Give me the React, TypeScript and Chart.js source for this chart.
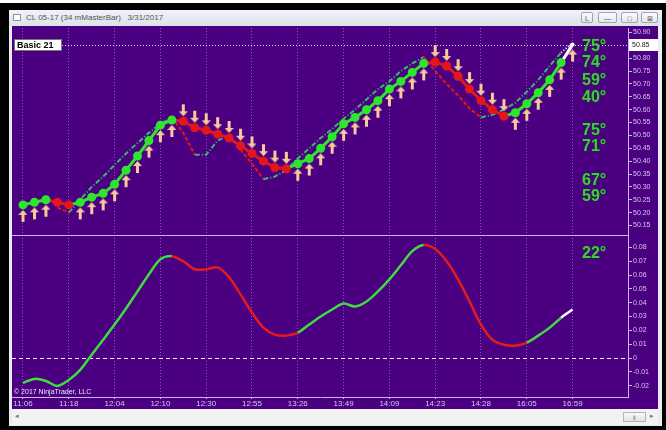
import React, { useEffect, useRef } from 'react';
import { Chart, registerables } from 'chart.js';

Chart.register(...registerables);

// ---------- data ----------
const timeLabels = ['11:06', '11:18', '12:04', '12:10', '12:30', '12:55', '13:26', '13:49', '14:09', '14:23', '14:28', '16:05', '16:59'];
const barsPerLabel = 4;

const priceValues = [
  50.23, 50.24, 50.25, 50.24, 50.23, 50.24, 50.26, 50.275, 50.31, 50.365,
  50.42, 50.48, 50.54, 50.56, 50.555, 50.53, 50.52, 50.505, 50.49, 50.46,
  50.43, 50.40, 50.375, 50.37, 50.39, 50.41, 50.45, 50.495, 50.545, 50.57,
  50.60, 50.635, 50.68, 50.71, 50.745, 50.78, 50.785, 50.77, 50.73, 50.68,
  50.635, 50.60, 50.575, 50.588, 50.623, 50.666, 50.716, 50.783, 50.853,
];
// 1 = up bar (green), -1 = down bar (red), 0 = current bar
const barTrend = [
  1, 1, 1, -1, -1, 1, 1, 1, 1, 1,
  1, 1, 1, 1, -1, -1, -1, -1, -1, -1,
  -1, -1, -1, -1, 1, 1, 1, 1, 1, 1,
  1, 1, 1, 1, 1, 1, -1, -1, -1, -1,
  -1, -1, -1, 1, 1, 1, 1, 1, 0,
];
const arrowFlags = [
  1, 1, 1, 0, 0, 1, 1, 1, 1, 1,
  1, 1, 1, 1, 1, 1, 1, 1, 1, 1,
  1, 1, 1, 1, 1, 1, 1, 1, 1, 1,
  1, 1, 1, 1, 1, 1, 1, 1, 1, 1,
  1, 1, 1, 1, 1, 1, 1, 1, 1,
];
const leadValues = [
  null, null, null, 50.22, 50.20, 50.25, 50.30, 50.34, 50.385, 50.43,
  50.47, 50.51, 50.545, 50.57, 50.51, 50.425, 50.425, 50.48, 50.50, 50.445,
  50.39, 50.33, 50.34, 50.365, 50.41, 50.45, 50.49, 50.525, 50.565, 50.60,
  50.64, 50.68, 50.71, 50.75, 50.78, 50.805, 50.75, 50.70, 50.655, 50.605,
  50.57, 50.58, 50.60, 50.627, 50.67, 50.716, 50.77, 50.822, 50.86,
];
const oscValues = [
  -0.0180, -0.0151, -0.0166, -0.0202, -0.0159, -0.0086, 0.0024, 0.0132, 0.0242, 0.0358,
  0.0482, 0.0606, 0.0715, 0.0737, 0.0700, 0.0642, 0.0642, 0.0656, 0.0584, 0.0460,
  0.0329, 0.0220, 0.0169, 0.0162, 0.0183, 0.0242, 0.0300, 0.0351, 0.0394, 0.0373,
  0.0409, 0.0482, 0.0569, 0.0671, 0.0773, 0.0817, 0.0788, 0.0700, 0.0569, 0.0409,
  0.0242, 0.0132, 0.0096, 0.0089, 0.0111, 0.0162, 0.0220, 0.0292, 0.0351,
];
const oscTrend = [
  1, 1, 1, 1, 1, 1, 1, 1, 1, 1,
  1, 1, 1, -1, -1, -1, -1, -1, -1, -1,
  -1, -1, -1, -1, 1, 1, 1, 1, 1, 1,
  1, 1, 1, 1, 1, -1, -1, -1, -1, -1,
  -1, -1, -1, -1, 1, 1, 1, 1, 0,
];
const priceTicks = [50.90, 50.85, 50.80, 50.75, 50.70, 50.65, 50.60, 50.55, 50.50, 50.45, 50.40, 50.35, 50.30, 50.25, 50.20, 50.15];
const oscTicks = [0.08, 0.07, 0.06, 0.05, 0.04, 0.03, 0.02, 0.01, 0, -0.01, -0.02];
const priceLineValue = 50.85;
const priceLineName = 'Basic 21';
const angleTexts = ['75°', '74°', '59°', '40°', '75°', '71°', '67°', '59°'];
const oscAngleText = '22°';
const titleText = 'CL 05-17 (34 mMasterBar)   3/31/2017';
const copyrightText = '© 2017 NinjaTrader, LLC';

// ---------- style ----------
const FONT = 'Arial, "Liberation Sans", sans-serif';
const PURPLE = '#4b0082';
const LAV = '#c9b6ee';
const TICKTXT = '#d4c6f0';
const GREEN = '#2ee62e';
const RED = '#e6141c';
const LEAD_GREEN = '#3cb371';
const LEAD_RED = '#e01818';
const OSC_GREEN = '#3fdc3f';
const OSC_RED = '#e31b1b';
const ARROW = '#f7c99b';
const ANGLE = '#3bd03b';

function makeArrow(up: boolean): HTMLCanvasElement {
  const c = document.createElement('canvas');
  const w = 9;
  const h = 40;
  c.width = w;
  c.height = h;
  const g = c.getContext('2d')!;
  g.fillStyle = ARROW;
  const cx = w / 2;
  const cy = h / 2;
  g.beginPath();
  if (up) {
    const tip = cy + 5;
    g.moveTo(cx, tip);
    g.lineTo(cx + 4.5, tip + 5);
    g.lineTo(cx - 4.5, tip + 5);
    g.closePath();
    g.fill();
    g.fillRect(cx - 1.5, tip + 4, 3, 8);
  } else {
    const tip = cy - 5;
    g.moveTo(cx, tip);
    g.lineTo(cx + 4.5, tip - 5);
    g.lineTo(cx - 4.5, tip - 5);
    g.closePath();
    g.fill();
    g.fillRect(cx - 1.5, tip - 12, 3, 8);
  }
  return c;
}

const last = priceValues.length - 1;

const overlayPlugin = {
  id: 'overlay',
  beforeDatasetsDraw(chart: any) {
    const { ctx, chartArea } = chart;
    const yP = chart.scales.yPrice;
    const yO = chart.scales.yOsc;
    ctx.save();
    // separator between panes
    const sy = Math.round(yP.bottom) + 0.5;
    ctx.strokeStyle = LAV;
    ctx.lineWidth = 1;
    ctx.beginPath();
    ctx.moveTo(chartArea.left, sy);
    ctx.lineTo(chartArea.right, sy);
    ctx.stroke();
    // zero line
    const zy = Math.round(yO.getPixelForValue(0)) + 0.5;
    ctx.setLineDash([4, 3]);
    ctx.strokeStyle = '#f4f0ff';
    ctx.beginPath();
    ctx.moveTo(chartArea.left, zy);
    ctx.lineTo(chartArea.right, zy);
    ctx.stroke();
    // price line
    const py = Math.round(yP.getPixelForValue(priceLineValue)) + 0.5;
    ctx.setLineDash([1, 2]);
    ctx.strokeStyle = '#e2daf6';
    ctx.beginPath();
    ctx.moveTo(chartArea.left + 50, py);
    ctx.lineTo(chartArea.right, py);
    ctx.stroke();
    ctx.restore();
  },
  afterDatasetsDraw(chart: any) {
    const { ctx, chartArea } = chart;
    const yP = chart.scales.yPrice;
    ctx.save();
    const py = Math.round(yP.getPixelForValue(priceLineValue));
    // name box
    ctx.fillStyle = '#ffffff';
    ctx.fillRect(chartArea.left + 2, py - 6, 48, 12);
    ctx.strokeStyle = '#777';
    ctx.lineWidth = 1;
    ctx.strokeRect(chartArea.left + 2.5, py - 5.5, 47, 11);
    ctx.fillStyle = '#000';
    ctx.font = `bold 9px ${FONT}`;
    ctx.textBaseline = 'middle';
    ctx.textAlign = 'left';
    ctx.fillText(priceLineName, chartArea.left + 5, py + 0.5);
    // axis value box
    ctx.fillStyle = '#ffffff';
    ctx.fillRect(chartArea.right + 1, py - 6, 29, 12);
    ctx.fillStyle = '#222';
    ctx.font = `7px ${FONT}`;
    ctx.fillText(priceLineValue.toFixed(2), chartArea.right + 4, py + 0.5);
    // angle labels
    const tops = [18.5, 34.5, 52.5, 69.5, 102.5, 118.5, 152.5, 168.5];
    ctx.font = `bold 16px ${FONT}`;
    ctx.fillStyle = ANGLE;
    ctx.strokeStyle = 'rgba(20,60,20,0.6)';
    ctx.lineWidth = 1;
    const ax = chartArea.right - 46;
    angleTexts.forEach((t, i) => {
      ctx.strokeText(t, ax, chartArea.top + tops[i]);
      ctx.fillText(t, ax, chartArea.top + tops[i]);
    });
    ctx.strokeText(oscAngleText, ax, chartArea.top + 225.5);
    ctx.fillText(oscAngleText, ax, chartArea.top + 225.5);
    // copyright
    ctx.font = `7px ${FONT}`;
    ctx.fillStyle = '#ece6f8';
    ctx.textBaseline = 'bottom';
    ctx.fillText(copyrightText, chartArea.left + 2, chartArea.bottom - 1);
    ctx.restore();
  },
};

const noPad = (s: any) => {
  s.paddingTop = 0;
  s.paddingBottom = 0;
  s.paddingLeft = 0;
  s.paddingRight = 0;
};

export default function App() {
  const ref = useRef<HTMLCanvasElement>(null);

  useEffect(() => {
    const upImg = makeArrow(true);
    const downImg = makeArrow(false);
    const pts = (arr: (number | null)[]) => arr.map((v, i) => ({ x: i, y: v }));
    const trendColor = (t: number) => (t > 0 ? GREEN : t < 0 ? RED : '#ffffff');

    const chart = new Chart(ref.current!, {
      type: 'line',
      data: {
        datasets: [
          {
            label: 'bars',
            yAxisID: 'yPrice',
            data: pts(priceValues) as any,
            borderWidth: 3,
            pointRadius: priceValues.map((_, i) => (i === last ? 2 : 4.5)),
            pointHoverRadius: 4,
            pointBorderWidth: 0,
            pointBackgroundColor: barTrend.map(trendColor),
            segment: {
              borderColor: (c: any) => trendColor(barTrend[c.p1DataIndex]),
            },
            order: 1,
          } as any,
          {
            label: 'up arrows',
            yAxisID: 'yPrice',
            data: priceValues.map((v, i) => ({ x: i, y: arrowFlags[i] && barTrend[i] >= 0 ? v : null })) as any,
            showLine: false,
            pointStyle: upImg as any,
            pointRadius: 5,
            order: 2,
          } as any,
          {
            label: 'down arrows',
            yAxisID: 'yPrice',
            data: priceValues.map((v, i) => ({ x: i, y: arrowFlags[i] && barTrend[i] < 0 ? v : null })) as any,
            showLine: false,
            pointStyle: downImg as any,
            pointRadius: 5,
            order: 2,
          } as any,
          {
            label: 'lead',
            yAxisID: 'yPrice',
            data: pts(leadValues) as any,
            borderWidth: 2,
            pointRadius: 0,
            segment: {
              borderColor: (c: any) =>
                c.p1DataIndex === last ? '#ffffff' : c.p1.parsed.y >= c.p0.parsed.y ? LEAD_GREEN : LEAD_RED,
              borderDash: (c: any) =>
                c.p1DataIndex === last ? [1, 2] : c.p1.parsed.y >= c.p0.parsed.y ? [5, 2, 1, 2] : [4, 2],
            },
            order: 3,
          } as any,
          {
            label: 'osc',
            yAxisID: 'yOsc',
            data: pts(oscValues) as any,
            borderWidth: 2.5,
            pointRadius: 0,
            tension: 0.3,
            segment: {
              borderColor: (c: any) =>
                c.p1DataIndex === last ? '#ffffff' : oscTrend[c.p0DataIndex] < 0 ? OSC_RED : OSC_GREEN,
            },
            order: 1,
          } as any,
        ],
      },
      options: {
        responsive: false,
        animation: false,
        devicePixelRatio: 1,
        layout: { autoPadding: false, padding: { top: 2, left: 0, right: 0, bottom: 0 } },
        plugins: { legend: { display: false }, tooltip: { enabled: false } },
        events: [],
        scales: {
          x: {
            type: 'linear',
            min: -0.96,
            max: 52.84,
            afterBuildTicks: (s: any) => {
              s.ticks = timeLabels.map((_, i) => ({ value: i * barsPerLabel }));
            },
            afterFit: (s: any) => {
              s.height = 12;
              noPad(s);
            },
            ticks: {
              autoSkip: false,
              maxRotation: 0,
              padding: 0,
              color: TICKTXT,
              font: { size: 8, family: FONT },
              callback: (v: any) => timeLabels[Math.round(Number(v) / barsPerLabel)] ?? '',
            },
            grid: { color: 'rgba(200,170,255,0.5)', tickColor: LAV, tickLength: 2, drawTicks: true },
            border: { display: true, color: LAV, dash: [1, 2] },
          },
          yPrice: {
            type: 'linear',
            position: 'right',
            stack: 'panes',
            stackWeight: 207,
            min: 50.113,
            max: 50.9175,
            afterBuildTicks: (s: any) => {
              s.ticks = priceTicks.map((v) => ({ value: v }));
            },
            afterFit: (s: any) => {
              s.width = 30;
              noPad(s);
            },
            ticks: {
              autoSkip: false,
              padding: 1,
              color: TICKTXT,
              font: { size: 7, family: FONT },
              callback: (v: any) => Number(v).toFixed(2),
            },
            grid: { drawOnChartArea: false, drawTicks: true, tickLength: 4, color: LAV },
            border: { display: true, color: LAV },
          },
          yOsc: {
            type: 'linear',
            position: 'right',
            stack: 'panes',
            stackWeight: 162,
            min: -0.0282,
            max: 0.089,
            afterBuildTicks: (s: any) => {
              s.ticks = oscTicks.map((v) => ({ value: v }));
            },
            afterFit: (s: any) => {
              s.width = 30;
              noPad(s);
            },
            ticks: {
              autoSkip: false,
              padding: 1,
              color: TICKTXT,
              font: { size: 7, family: FONT },
              callback: (v: any) => (Number(v) === 0 ? '0' : Number(v).toFixed(2)),
            },
            grid: { drawOnChartArea: false, drawTicks: true, tickLength: 4, color: LAV },
            border: { display: true, color: LAV },
          },
        },
      } as any,
      plugins: [overlayPlugin],
    });
    return () => chart.destroy();
  }, []);

  const btn = (left: number, width: number, label: string) => (
    <div
      style={{
        position: 'absolute',
        left,
        top: 2,
        width,
        height: 11,
        border: '1px solid #9aa4b2',
        borderRadius: 2,
        background: 'linear-gradient(#fbfcfd,#e4e8ee)',
        fontSize: 7,
        lineHeight: '11px',
        textAlign: 'center',
        color: '#555',
        boxSizing: 'border-box',
      }}
    >
      {label}
    </div>
  );

  return (
    <div
      style={{
        position: 'absolute',
        left: 0,
        top: 0,
        width: 666,
        height: 430,
        background: '#000',
        overflow: 'hidden',
        fontFamily: FONT,
      }}
    >
      <div style={{ position: 'absolute', left: 0, top: 0, width: 666, height: 3, background: '#fff' }} />
      <div style={{ position: 'absolute', left: 9, top: 10, width: 653, height: 416, background: '#e9ecf1' }} />
      <div
        style={{
          position: 'absolute',
          left: 9,
          top: 10,
          width: 653,
          height: 16,
          background: 'linear-gradient(#f0f3f7,#dde2ea)',
        }}
      >
        <div
          style={{
            position: 'absolute',
            left: 4,
            top: 4,
            width: 8,
            height: 7,
            border: '1px solid #8a93a0',
            background: '#fff',
            boxSizing: 'border-box',
          }}
        />
        <div style={{ position: 'absolute', left: 17, top: 3, fontSize: 8, color: '#555', whiteSpace: 'pre' }}>
          {titleText}
        </div>
        {btn(572, 12, 'L')}
        {btn(589, 19, '—')}
        {btn(612, 17, '□')}
        {btn(632, 17, '⊠')}
      </div>
      <canvas
        ref={ref}
        width={646}
        height={383}
        style={{ position: 'absolute', left: 12, top: 26, width: 646, height: 383, background: PURPLE }}
      />
      <div style={{ position: 'absolute', left: 12, top: 409, width: 646, height: 16, background: '#f2f2f2' }}>
        <div style={{ position: 'absolute', left: 3, top: 3, fontSize: 7, color: '#777' }}>◂</div>
        <div
          style={{
            position: 'absolute',
            left: 611,
            top: 3,
            width: 23,
            height: 10,
            border: '1px solid #b5b5b5',
            background: 'linear-gradient(#fafafa,#e2e2e2)',
            fontSize: 6,
            lineHeight: '10px',
            textAlign: 'center',
            color: '#777',
            boxSizing: 'border-box',
          }}
        >
          ⦀
        </div>
        <div style={{ position: 'absolute', left: 638, top: 3, fontSize: 7, color: '#777' }}>▸</div>
      </div>
    </div>
  );
}
